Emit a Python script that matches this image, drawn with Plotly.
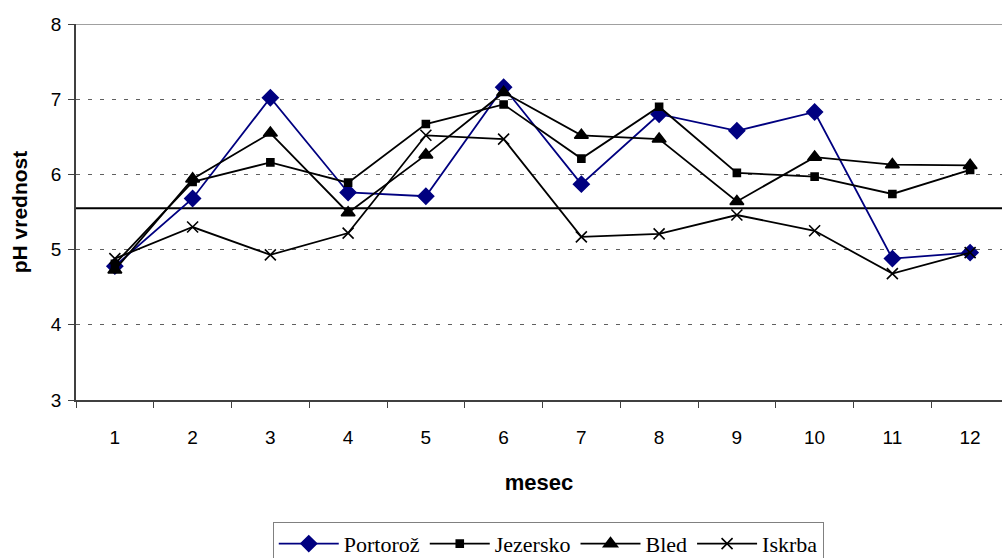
import plotly.graph_objects as go

# ---------------------------
# Data
# ---------------------------
months = [str(m) for m in range(1, 13)]

portoroz = [4.78, 5.68, 7.02, 5.76, 5.71, 7.16, 5.87, 6.80, 6.58, 6.83, 4.88, 4.96]
jezersko = [4.81, 5.90, 6.16, 5.89, 6.67, 6.93, 6.21, 6.90, 6.02, 5.97, 5.74, 6.06]
bled = [4.73, 5.94, 6.55, 5.49, 6.26, 7.09, 6.52, 6.47, 5.64, 6.23, 6.13, 6.12]
iskrba = [4.88, 5.30, 4.93, 5.22, 6.52, 6.47, 5.17, 5.21, 5.46, 5.25, 4.68, 4.96]

ref_level = 5.55  # horizontal reference line

series = [
    ("Portorož", portoroz, "#000080", "diamond", 12),
    ("Jezersko", jezersko, "black", "square", 7),
    ("Bled", bled, "black", "triangle-up", 12),
    ("Iskrba", iskrba, "black", "x-thin-open", 11),
]

# ---------------------------
# Build figure
# ---------------------------
fig = go.Figure()

for name, vals, color, symbol, size in series:
    fig.add_trace(go.Scatter(
        x=months, y=vals, name=name, mode="lines+markers",
        line=dict(color=color, width=1.8),
        marker=dict(symbol=symbol, size=size, color=color,
                    line=dict(color=color, width=1.6)),
    ))

# reference line
fig.add_hline(y=ref_level, line=dict(color="black", width=2), layer="below")
# top border of plot area
fig.add_hline(y=8, line=dict(color="#808080", width=1.5), layer="below")

fig.update_layout(
    width=1002, height=558,
    margin=dict(l=76, r=0, t=24, b=158, autoexpand=False),
    paper_bgcolor="white", plot_bgcolor="white",
    font=dict(family="Liberation Sans, Arial", size=19, color="black"),
    legend=dict(
        orientation="h", x=0.51, xanchor="center", y=-0.324, yanchor="top",
        font=dict(family="Liberation Serif, Times New Roman", size=22, color="black"),
        bordercolor="#808080", borderwidth=1, bgcolor="white",
        itemwidth=60, tracegroupgap=0,
    ),
    showlegend=True,
)

fig.update_xaxes(
    type="category", range=[-0.5, 11.41], automargin=False,
    tickson="boundaries", ticks="outside", ticklen=6, tickcolor="#404040",
    ticklabelstandoff=19, tickfont=dict(size=19),
    showline=True, linecolor="#404040", linewidth=1.5,
    showgrid=False, zeroline=False,
    title=dict(text="<b>mesec</b>", font=dict(size=22), standoff=28),
)

fig.update_yaxes(
    range=[3, 8], dtick=1, automargin=False,
    ticks="outside", ticklen=6, tickcolor="#404040",
    ticklabelstandoff=3, tickfont=dict(size=19),
    showline=True, linecolor="#404040", linewidth=1.5,
    showgrid=True, gridcolor="#606060", gridwidth=1, griddash="4px,8px",
    zeroline=False,
    title=dict(text="<b>pH vrednost</b>", font=dict(size=21), standoff=18),
)

# drop the default page margin so the figure sits at the window's corner
fig.write_html("out.html", config={"displayModeBar": False},
               post_script="document.body.style.margin='0px';")
